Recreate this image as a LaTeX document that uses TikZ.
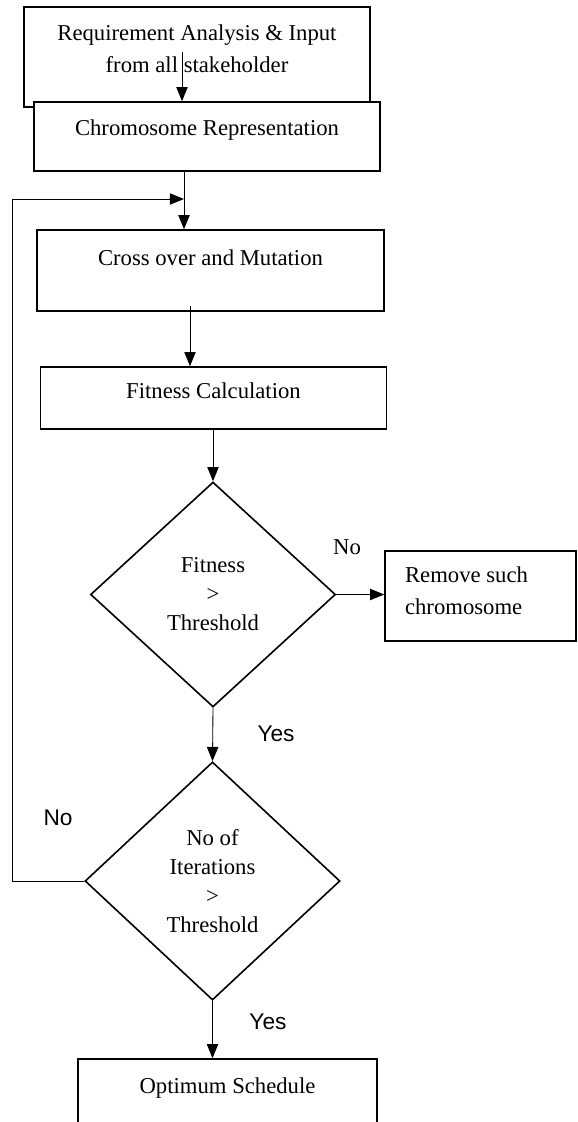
\documentclass[tikz,border=0pt]{standalone}
\usepackage{fontspec}
\setmainfont{Liberation Serif}
\setsansfont{Liberation Sans}
\usetikzlibrary{shapes.geometric, arrows.meta}

\begin{document}
\begin{tikzpicture}[
    x=0.529pt, y=-0.529pt,
    procbox/.style={rectangle, draw=black, fill=white, line width=0.85pt, inner xsep=6.5pt, inner ysep=0pt, align=flush center, font=\fontsize{12}{16.9}\selectfont},
    decision/.style={diamond, draw=black, line width=0.85pt, inner sep=0pt, align=center, font=\fontsize{12}{15.3}\selectfont},
    arrow/.style={-{Triangle[length=7.5pt, width=6pt]}, line width=0.45pt},
    answer/.style={font=\sffamily\fontsize{12}{14}\selectfont, inner sep=0pt}
]
\useasboundingbox (0,0) rectangle (577,1122);
\clip (0,0) rectangle (577,1122);

% ========== PROCESS BOXES ==========
\node[procbox, text width=170pt, text height=17.5pt, text depth=35.4pt] (req) at (197,57) {Requirement Analysis \& Input\\from all stakeholder};
\node[procbox, minimum width=183pt, text height=17.5pt, text depth=19pt] (chrom) at (207,136.5) {Chromosome Representation};
\node[procbox, minimum width=183.6pt, text height=18.5pt, text depth=24.3pt] (cross) at (210.5,270.5) {Cross over and Mutation};
\node[procbox, minimum width=183pt, text height=16.4pt, text depth=16.4pt] (fit) at (213.5,398) {Fitness Calculation};

% ========== DECISIONS ==========
\node[decision, minimum width=129.6pt, minimum height=119pt] (dec1) at (213,594.5) {Fitness\\>\\Threshold};
\node[procbox, text width=79.8pt, inner xsep=10.6pt, align=flush left, text height=16.9pt, text depth=30.7pt] (remove) at (480.5,596) {Remove such\\chromosome};
\node[decision, minimum width=134.9pt, minimum height=126pt] (dec2) at (212.5,881) {No of\\Iterations\\>\\Threshold};

% ========== RESULT ==========
\node[procbox, minimum width=158pt, text height=18pt, text depth=30pt] (opt) at (227.5,1104.4) {Optimum Schedule};

% ========== ARROWS ==========
\coordinate (a1) at (182,52);
\coordinate (a3) at (190,306);
\coordinate (join) at (184,199);
\coordinate (back) at (12,199);
\draw[arrow] (a1) -- (a1 |- chrom.north);
\draw[arrow] (chrom.south -| join) -- (cross.north -| join);
\draw[arrow] (a3) -- (a3 |- fit.north);
\draw[arrow] (fit.south -| dec1.north) -- (dec1.north);
\draw[arrow] (dec1.east) -- (dec1.east -| remove.west);
\draw[arrow] (dec1.south) -- (dec2.north);
\draw[arrow] (dec2.south) -- (dec2.south |- opt.north);
% loop back for another generation
\draw[arrow] (dec2.west) -- (dec2.west -| back) -- (back) -- (join);

% ========== LABELS ==========
\node[inner sep=0pt, font=\fontsize{12}{14}\selectfont] (no1) at (347,547) {No};
\node[answer] (yes1) at (276,734) {Yes};
\node[answer] (no2) at (58,818) {No};
\node[answer] (yes2) at (268,1022) {Yes};

\end{tikzpicture}
\end{document}
